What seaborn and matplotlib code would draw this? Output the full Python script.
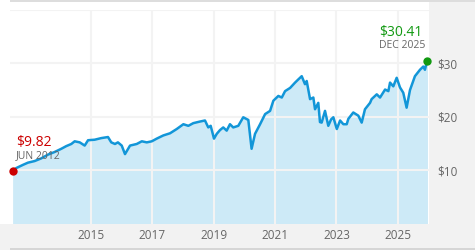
import numpy as np
import pandas as pd
import matplotlib
matplotlib.use("Agg")
import matplotlib.pyplot as plt
import seaborn as sns
from matplotlib.patches import Rectangle

# ---- data ----
dates = [
    "2012-06-15", "2012-07-30", "2012-10-18", "2012-12-15", "2013-03-05", "2013-05-22",
    "2013-08-10", "2013-10-29", "2014-01-16", "2014-03-16", "2014-05-15", "2014-06-24",
    "2014-08-23", "2014-10-21", "2014-11-30", "2015-02-17", "2015-05-06", "2015-07-25",
    "2015-09-02", "2015-10-16", "2015-11-20", "2016-01-04", "2016-02-12", "2016-04-12",
    "2016-07-01", "2016-08-30", "2016-10-28", "2016-12-27", "2017-02-24", "2017-05-14",
    "2017-08-01", "2017-10-20", "2018-01-07", "2018-03-07", "2018-05-05", "2018-07-23",
    "2018-09-21", "2018-10-30", "2018-11-28", "2019-01-06", "2019-02-08", "2019-03-18",
    "2019-04-26", "2019-06-06", "2019-07-15", "2019-08-23", "2019-10-22", "2019-12-20",
    "2020-02-18", "2020-03-28", "2020-05-08", "2020-07-07", "2020-09-05", "2020-11-03",
    "2020-12-12", "2021-02-10", "2021-03-23", "2021-05-01", "2021-06-30", "2021-08-28",
    "2021-10-06", "2021-11-15", "2021-12-24", "2022-01-13", "2022-02-22", "2022-04-02",
    "2022-04-22", "2022-05-31", "2022-06-20", "2022-07-10", "2022-08-19", "2022-09-27",
    "2022-10-30", "2022-11-26", "2023-01-06", "2023-02-14", "2023-03-25", "2023-05-04",
    "2023-05-23", "2023-07-21", "2023-09-19", "2023-10-29", "2023-12-07", "2024-02-05",
    "2024-02-24", "2024-04-25", "2024-06-03", "2024-08-02", "2024-09-10", "2024-09-30",
    "2024-11-08", "2024-12-18", "2025-01-27", "2025-03-07", "2025-04-16", "2025-05-26",
    "2025-07-24", "2025-09-22", "2025-10-31", "2025-11-20", "2025-12-11", "2025-12-20",
]
values = [
    9.82, 10.4, 11.0, 11.4, 11.7, 12.2,
    12.9, 13.4, 14.0, 14.5, 14.9, 15.4,
    15.2, 14.6, 15.6, 15.7, 16.0, 16.2,
    15.2, 14.9, 15.2, 14.6, 13.0, 14.6,
    14.9, 15.4, 15.2, 15.4, 15.9, 16.5,
    16.9, 17.7, 18.6, 18.3, 18.8, 19.1,
    19.3, 18.0, 18.3, 15.9, 16.8, 17.5,
    18.0, 17.4, 18.6, 18.0, 18.3, 19.9,
    19.4, 14.0, 16.8, 18.6, 20.5, 21.1,
    23.0, 23.9, 23.6, 24.8, 25.4, 26.4,
    27.0, 27.6, 26.1, 26.7, 23.3, 23.6,
    21.4, 22.6, 19.0, 18.9, 21.1, 18.3,
    19.5, 19.9, 17.7, 19.3, 18.6, 18.6,
    19.6, 20.8, 20.2, 18.9, 21.4, 22.6,
    23.3, 24.2, 23.6, 25.1, 24.8, 26.4,
    25.7, 27.3, 25.5, 24.5, 21.7, 25.0,
    27.6, 28.8, 29.4, 28.8, 30.2, 30.41,
]
year_ticks = [2015, 2017, 2019, 2021, 2023, 2025]
price_ticks = [10, 20, 30]
grid_prices = [10, 20, 30, 40]

# ---- styling ----
sns.set_theme(style="white")
plt.rcParams["font.family"] = ["Open Sans", "DejaVu Sans"]

W, H = 475, 250
LINE = "#1296d8"
FILL = "#cdeaf7"
GRID = "#f3f3f3"
TXT = "#666666"
RED = "#cc0000"
GREEN = "#119911"

df = pd.DataFrame({"date": pd.to_datetime(dates), "value": values})
df["year"] = df["date"].dt.year + (df["date"].dt.dayofyear - 1) / 365.25

fig = plt.figure(figsize=(W / 100, H / 100), dpi=100)
fig.patch.set_facecolor("white")
# background panels
fig.add_artist(Rectangle((429 / W, 0), 46 / W, 1, transform=fig.transFigure,
                         color="#f2f2f2", lw=0, zorder=-10))
fig.add_artist(Rectangle((0, 0), 1, 26.5 / H, transform=fig.transFigure,
                         color="#f2f2f2", lw=0, zorder=-10))
fig.add_artist(Rectangle((10 / W, (H - 2) / H), (W - 10) / W, 2 / H,
                         transform=fig.transFigure, color="#dddddd", lw=0, zorder=-9))
fig.add_artist(Rectangle((10 / W, 0), (W - 10) / W, 2.3 / H,
                         transform=fig.transFigure, color="#d6d6d6", lw=0, zorder=-9))

ax = fig.add_axes([10 / W, 26.5 / H, 419 / W, 213.5 / H])
ax.set_facecolor("white")

ax.fill_between(df["year"], df["value"], 0, color=FILL, lw=0, zorder=1)
for t in year_ticks:
    ax.axvline(t, color=GRID, lw=1.5, zorder=2)
for v in grid_prices:
    ax.axhline(v, color=GRID, lw=1.5, zorder=2)
sns.lineplot(data=df, x="year", y="value", ax=ax, color=LINE, lw=1.8, zorder=3)

first = df.iloc[0]
last = df.iloc[-1]
ax.scatter([first["year"]], [first["value"]], s=36, color=RED, zorder=5, lw=0, clip_on=False)
ax.scatter([last["year"]], [last["value"]], s=36, color=GREEN, zorder=5, lw=0, clip_on=False)

px = 0.72  # points per pixel
ax.annotate(f"${first['value']:.2f}", (first["year"], first["value"]),
            xytext=(3.5 * px, 24.7 * px), textcoords="offset points",
            ha="left", va="baseline", color=RED, fontsize=10, zorder=6)
ax.annotate(first["date"].strftime("%b %Y").upper(), (first["year"], first["value"]),
            xytext=(3.5 * px, 12.7 * px), textcoords="offset points",
            ha="left", va="baseline", color=TXT, fontsize=7.5, zorder=6)
ax.annotate(f"${last['value']:.2f}", (last["year"], last["value"]),
            xytext=(-4.5 * px, 25.5 * px), textcoords="offset points",
            ha="right", va="baseline", color=GREEN, fontsize=10, zorder=6)
ax.annotate(last["date"].strftime("%b %Y").upper(), (last["year"], last["value"]),
            xytext=(-2.5 * px, 13.5 * px), textcoords="offset points",
            ha="right", va="baseline", color=TXT, fontsize=7.5, zorder=6)

ax.set_xlim(first["year"] - 0.085, last["year"] + 0.05)
ax.set_ylim(0, 40)
ax.set_xticks(year_ticks)
ax.set_xticklabels([str(y) for y in year_ticks])
ax.yaxis.tick_right()
ax.set_yticks(price_ticks)
ax.set_yticklabels([f"${p}" for p in price_ticks])
ax.tick_params(axis="x", length=0, pad=4, labelsize=8.5, labelcolor=TXT)
ax.tick_params(axis="y", length=0, pad=6, labelsize=8.5, labelcolor=TXT)
ax.set_xlabel("")
ax.set_ylabel("")
for s in ax.spines.values():
    s.set_visible(False)

fig.savefig("out.png", dpi=100, facecolor=fig.get_facecolor())
